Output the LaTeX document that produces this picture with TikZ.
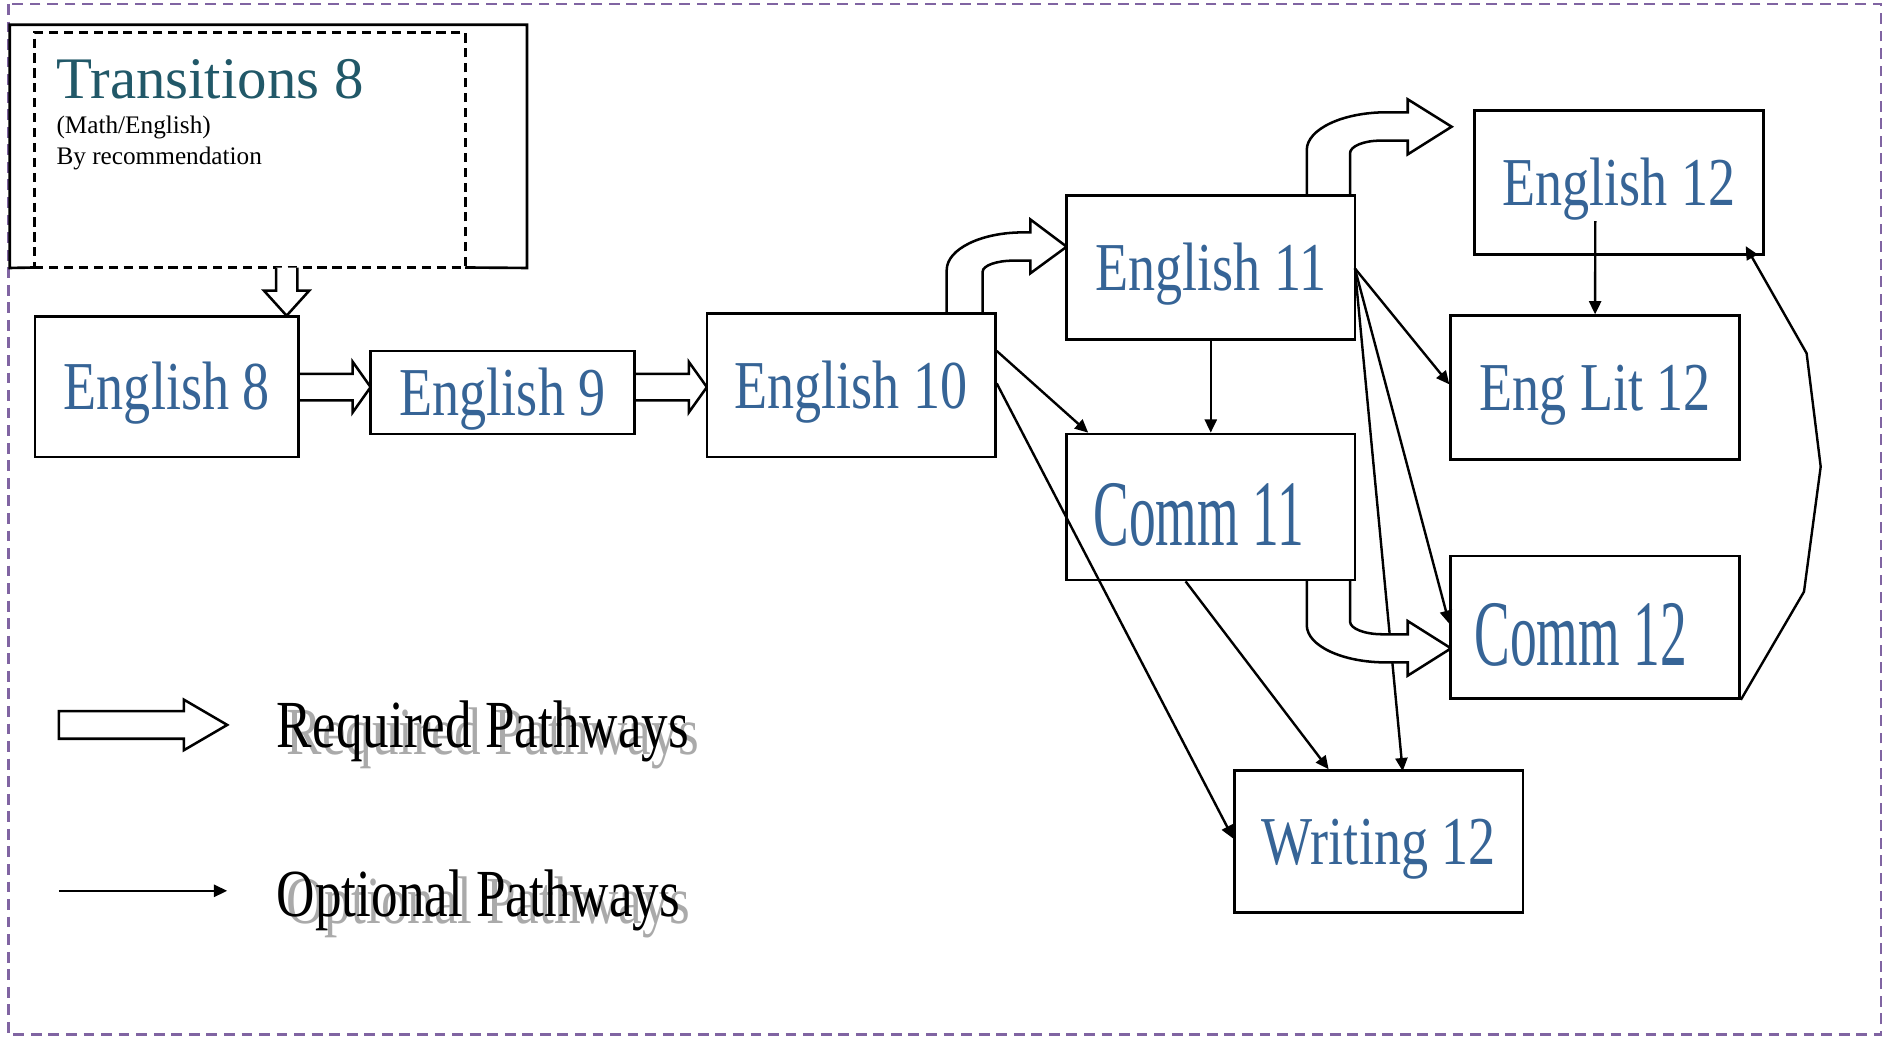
\documentclass[tikz,border=0pt]{standalone}
\usepackage{fontspec}
\setmainfont{Liberation Serif}
\newfontfamily\condf[FakeStretch=0.79]{Liberation Serif}
\newfontfamily\vcondf[FakeStretch=0.57]{Liberation Serif}
\usetikzlibrary{arrows.meta,calc}
\definecolor{boxblue}{RGB}{54,100,150}
\definecolor{tealeight}{RGB}{33,88,104}
\definecolor{borderpurple}{RGB}{128,100,162}
\definecolor{shadowgray}{RGB}{170,170,170}
\begin{document}
\begin{tikzpicture}[x=0.5pt,y=-0.5pt,
  course/.style={draw,line width=1.1pt,fill=white,text=boxblue,inner sep=0pt,
    font=\condf\fontsize{28.5}{30}\selectfont,text height=18.9pt,text depth=0pt,
    minimum width=120pt,minimum height=59.5pt},
  commbox/.style={course,font=\vcondf\fontsize{39}{40}\selectfont,text height=31.8pt},
  opt/.style={line width=1pt,-{Triangle[length=5.5pt,width=5pt]}},
  block/.style={draw,line width=1.05pt,fill=white,line join=miter},
  legendtxt/.style={anchor=base west,inner sep=0pt,font=\condf\fontsize{28}{30}\selectfont},
  smalltxt/.style={anchor=base west,inner sep=0pt,font=\fontsize{10.5}{12}\selectfont},
]
\useasboundingbox (0,0) rectangle (1568,863.4);
% outer dashed border
\draw[borderpurple,line width=1pt,dash pattern=on 4.5pt off 2.8pt] (7,3.3) rectangle (1564.7,860.6);

\coordinate (e11r) at (1127,223.2);

% ---- Transitions box ----
\node[inner sep=0pt,minimum width=214.75pt,minimum height=100.75pt] (trans) at (223.25,121.75) {};
\draw[line width=1.1pt] (28.5,222.5) -- (trans.south west) -- (trans.north west) -- (trans.north east) -- (trans.south east) -- (387,222.5);
\node[draw,line width=1.2pt,dash pattern=on 3.8pt off 2.4pt,inner sep=0pt,minimum width=179.25pt,minimum height=97.75pt] (transin) at (207.75,124.75) {};
\node[anchor=base west,inner sep=0pt,text=tealeight,font=\fontsize{24.5}{26}\selectfont] (t8) at (46.6,81.7) {Transitions 8};
\node[smalltxt] (t8a) at (46.6,111) {(Math/English)};
\node[smalltxt] (t8b) at (46.6,137) {By recommendation};

% ---- thin line under block arrow ----
\coordinate (w12in) at (1166.8,641.5);
\draw[opt] (e11r) -- (w12in);

% ---- block arrows ----
% Transitions -> English 8
\draw[block] (229.6,222.6) -- (229.6,241.8) -- (219.6,241.8) -- (238.4,262.6) -- (257.2,241.8) -- (247.3,241.8) -- (247.3,222.6);
% English 8 -> English 9
\draw[block] (248.7,311) -- (293.4,311) -- (293.4,301) -- (308.3,322) -- (293.4,343) -- (293.4,333) -- (248.7,333);
% English 9 -> English 10
\draw[block] (528,311) -- (573,311) -- (573,301) -- (588,322) -- (573,343) -- (573,333) -- (528,333);
% English 10 -> English 11
\draw[block] (787.5,261) -- (787.5,224.6) .. controls (787.5,207.3) and (815.9,193.3) .. (851,193.3)
  -- (857,193.3) -- (857,182.5) -- (887.3,205.2) -- (857,227.4) -- (857,216.8) -- (843,216.8)
  .. controls (828.9,216.8) and (817.4,220.9) .. (817.4,226) -- (817.4,261);
% English 11 -> English 12
\draw[block] (1087,162.8) -- (1087,124.8) .. controls (1087,107.5) and (1116.7,93.4) .. (1153.4,93.4)
  -- (1171,93.4) -- (1171,82.6) -- (1207.5,105.4) -- (1171,128.4) -- (1171,117) -- (1148,117)
  .. controls (1134.2,117) and (1123,121.7) .. (1123,127.5) -- (1123,162.8);
% Comm 11 -> Comm 12
\draw[block] (1087,482.5) -- (1087,520) .. controls (1087,537.1) and (1116.5,551) .. (1153,551)
  -- (1171,551) -- (1171,562) -- (1207,539.3) -- (1171,516.6) -- (1171,527.6) -- (1150,527.6)
  .. controls (1135.1,527.6) and (1123,522.9) .. (1123,517) -- (1123,482.5);
% legend block arrow
\draw[block] (49,591.5) -- (153,591.5) -- (153,582) -- (189,603) -- (153,624) -- (153,614.5) -- (49,614.5) -- cycle;

% ---- course boxes ----
\node[course,minimum width=109.75pt,minimum height=58.5pt] (e8) at (138.75,321.5) {English 8};
\node[course,minimum width=109.85pt,minimum height=34.5pt] (e9) at (418.15,326.5) {English 9};
\node[course] (e10) at (708,320.5) {English 10};
\node[course,minimum width=119.85pt,minimum height=59.75pt] (e11) at (1007.15,222.55) {English 11};
\node[commbox,minimum width=119.85pt,minimum height=60.75pt] (c11) at (1007.15,421.75) {Comm 11\kern10pt};
\node[course,minimum width=120.15pt,minimum height=59.8pt] (e12) at (1346.85,151.8) {English 12};
\node[course,minimum width=120.15pt,minimum height=59.7pt] (el12) at (1326.85,322.3) {Eng Lit 12};
\node[commbox,minimum width=120.15pt,minimum height=59.25pt] (c12) at (1326.85,521.75) {Comm 12\kern12pt};
\node[course,minimum width=120pt,minimum height=59pt] (w12) at (1147,700) {Writing 12};

% ---- optional pathways (thin arrows) ----
\draw[opt] ($(e10.north east)+(0,32)$) -- ($(c11.north west)+(19,0)$);
\draw[opt] ($(e10.north east)+(0,59)$) -- ($(w12.north west)+(0,57.7)$);
\draw[opt] (e11.south) -- (c11.north);
\draw[opt] (e11r) -- ($(el12.north west)+(0,58.2)$);
\draw[opt] (e11r) -- ($(c12.north west)+(0,57.5)$);
\draw[opt] ($(c11.south west)+(100,0)$) -- ($(w12.north west)+(79.3,0)$);
\draw[opt] ($(e12.south)+(-19.85,-28.7)$) -- (el12.north);
\coordinate (e12tip) at ($(e12.south east)+(-16,-8)$);
\draw[opt,line join=miter] (c12.south east) -- (1500.6,492.2) -- (1514.5,388.2) -- (1502.8,293.9) -- (e12tip);

% ---- legend ----
\coordinate (optA) at (49,741);
\coordinate (optB) at (189,741);
\draw[opt] (optA) -- (optB);
\node[legendtxt,text=shadowgray] (reqs) at (238,628) {Required Pathways};
\node[legendtxt] (req) at (230,622) {Required Pathways};
\node[legendtxt,text=shadowgray] (opts) at (238,768) {Optional Pathways};
\node[legendtxt] (optl) at (230,762) {Optional Pathways};
\end{tikzpicture}
\end{document}
